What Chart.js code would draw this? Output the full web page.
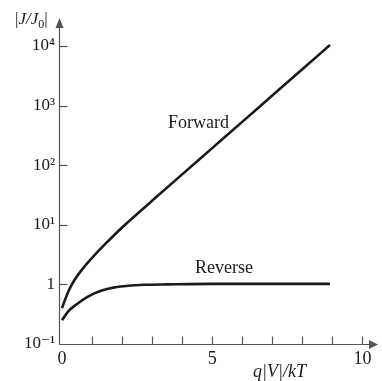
<!DOCTYPE html>
<html><head><meta charset="utf-8">
<script src="https://cdn.jsdelivr.net/npm/chart.js@4/dist/chart.umd.min.js"></script>
<style>html,body{margin:0;padding:0;background:#fff}#wrap{width:382px;height:381px;position:relative}</style>
</head><body><div id="wrap"><canvas id="c" width="382" height="381"></canvas></div>
<script>
// Values
const forwardX = [0, 0.2, 0.4, 0.75, 1.1, 1.5, 2, 2.5, 3, 4, 5, 6, 7, 8, 8.92];
const forwardY = [0.40, 0.74, 1.15, 2.0, 3.16, 5.1, 9.0, 15.2, 25.3, 70, 193, 532, 1470, 4060, 10330];
const reverseX = [0, 0.2, 0.5, 0.85, 1.3, 1.75, 2.2, 2.75, 3.5, 5, 7, 8.92];
const reverseY = [0.25, 0.35, 0.47, 0.62, 0.78, 0.89, 0.95, 0.985, 1.0, 1.02, 1.02, 1.02];
const yTickValues = [0.1, 1, 10, 100, 1000, 10000];
const yTickLabels = ['10⁻¹', '1', '10¹', '10²', '10³', '10⁴'];
const xTickValues = [0, 1, 2, 3, 4, 5, 6, 7, 8, 9, 10];
const xTickLabels = ['0', '', '', '', '', '5', '', '', '', '', '10'];
const seriesNames = ['Forward', 'Reverse'];

const toPts = (xs, ys) => xs.map((x, i) => ({x: x, y: ys[i]}));
const SERIF = '"Liberation Serif", "DejaVu Serif", serif';
const INK = '#1a1a1a';
const AXIS = '#555';

const axesPlugin = {
  id: 'axesPlugin',
  afterDraw(chart) {
    const ctx = chart.ctx;
    const xs = chart.scales.x, ys = chart.scales.y;
    const L = Math.round(xs.left) + 0.5;
    const B = Math.round(ys.bottom) + 0.5;
    const T = ys.top;
    const R = xs.right;
    ctx.save();
    ctx.strokeStyle = AXIS; ctx.fillStyle = AXIS; ctx.lineWidth = 1.2;
    // y axis
    ctx.beginPath(); ctx.moveTo(L, B); ctx.lineTo(L, T + 8); ctx.stroke();
    ctx.beginPath(); ctx.moveTo(L, T); ctx.lineTo(L - 4, T + 10); ctx.lineTo(L + 4, T + 10); ctx.closePath(); ctx.fill();
    // x axis
    ctx.beginPath(); ctx.moveTo(L, B); ctx.lineTo(R - 8, B); ctx.stroke();
    ctx.beginPath(); ctx.moveTo(R, B); ctx.lineTo(R - 9, B - 4.5); ctx.lineTo(R - 9, B + 4.5); ctx.closePath(); ctx.fill();
    // inward ticks
    xTickValues.forEach(v => {
      if (v === 0) return;
      const px = Math.round(xs.getPixelForValue(v)) + 0.5;
      ctx.beginPath(); ctx.moveTo(px, B); ctx.lineTo(px, B - 8); ctx.stroke();
    });
    yTickValues.forEach(v => {
      if (v === 0.1) return;
      const py = Math.round(ys.getPixelForValue(v)) + 0.5;
      ctx.beginPath(); ctx.moveTo(L, py); ctx.lineTo(L + 8, py); ctx.stroke();
    });
    // texts
    ctx.fillStyle = INK;
    ctx.textBaseline = 'alphabetic';
    ctx.textAlign = 'left';
    // y axis title |J/J0|
    let x = 15; const by = 24;
    const seg = (t, font, dy) => { ctx.font = font; ctx.fillText(t, x, by + (dy || 0)); x += ctx.measureText(t).width; };
    seg('|', '17px ' + SERIF);
    seg('J/J', 'italic 17px ' + SERIF);
    seg('0', '12px ' + SERIF, 4);
    seg('|', '17px ' + SERIF);
    // series labels
    ctx.font = '18px ' + SERIF;
    ctx.fillText(seriesNames[0], 168, 128);
    ctx.fillText(seriesNames[1], 195, 273);
    // x axis title
    ctx.font = 'italic 18px ' + SERIF;
    ctx.fillText('q|V|/kT', 253, 377);
    ctx.restore();
  }
};

new Chart(document.getElementById('c'), {
  type: 'line',
  data: {
    datasets: [
      {label: seriesNames[0], data: toPts(forwardX, forwardY), borderColor: INK, borderWidth: 2.6, pointRadius: 0, cubicInterpolationMode: 'monotone', fill: false},
      {label: seriesNames[1], data: toPts(reverseX, reverseY), borderColor: INK, borderWidth: 2.6, pointRadius: 0, cubicInterpolationMode: 'monotone', fill: false}
    ]
  },
  options: {
    responsive: false,
    animation: false,
    devicePixelRatio: 1,
    layout: {padding: {top: 18, right: 4, left: 0, bottom: 0}},
    plugins: {legend: {display: false}, tooltip: {enabled: false}},
    scales: {
      x: {
        type: 'linear', min: -0.1, max: 10.52,
        grid: {display: false, drawTicks: false},
        border: {display: false},
        afterBuildTicks: s => { s.ticks = xTickValues.map(v => ({value: v})); },
        afterFit: s => { s.height = 37; },
        ticks: {
          autoSkip: false, maxRotation: 0, padding: 4, color: INK,
          font: {family: SERIF, size: 18},
          callback: (v, i) => xTickLabels[i]
        }
      },
      y: {
        type: 'logarithmic', min: 0.1, max: 29400,
        grid: {display: false, drawTicks: false},
        border: {display: false},
        afterBuildTicks: s => { s.ticks = yTickValues.map(v => ({value: v})); },
        afterFit: s => { s.width = 59; },
        ticks: {
          autoSkip: false, padding: 4, color: INK,
          font: {family: SERIF, size: 17},
          callback: (v, i) => yTickLabels[i]
        }
      }
    }
  },
  plugins: [axesPlugin]
});
</script>
</body></html>
